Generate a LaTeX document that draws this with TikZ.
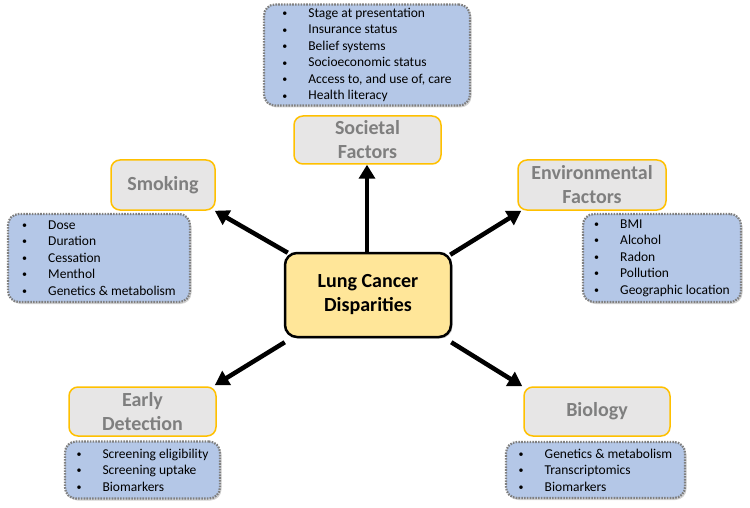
\documentclass[tikz,border=0pt]{standalone}
\usepackage{fontspec}
\setmainfont{Carlito}
\usetikzlibrary{arrows.meta,shadows,calc}
\definecolor{blu}{HTML}{B4C7E7}
\definecolor{lgray}{HTML}{E7E6E6}
\definecolor{gold}{HTML}{FFC000}
\definecolor{tgray}{HTML}{7F7F7F}
\definecolor{dgray}{HTML}{7F7F7F}
\definecolor{yel}{HTML}{FFE699}
\newcommand{\bli}[1]{\makebox[26pt][l]{\raisebox{0.8pt}{\fontsize{10}{10}\selectfont •}}#1}
\begin{document}
\begin{tikzpicture}[x=1pt,y=-1pt,
  lbl/.style={draw=gold, line width=1.5pt, fill=lgray, rounded corners=9pt, text=tgray,
    font=\fontsize{20}{24}\selectfont\bfseries, align=center, inner sep=0pt},
  blist/.style={draw=dgray, line width=2.2pt, dash pattern=on 1.6pt off 1.2pt, fill=blu,
    rounded corners=11pt, font=\fontsize{13.5}{16.5}\selectfont, align=left, inner sep=0pt,
    drop shadow={opacity=0.35, shadow xshift=1.5pt, shadow yshift=-2pt}},
  ctrbox/.style={draw=black, line width=2.5pt, fill=yel, rounded corners=12pt,
    font=\fontsize{20}{24}\selectfont\bfseries, align=center, inner sep=0pt,
    drop shadow={opacity=0.4, shadow xshift=1.5pt, shadow yshift=-1.5pt}},
  arr/.style={line width=4.5pt, -{Triangle[length=14pt,width=16pt]}}]
\useasboundingbox (0,0) rectangle (750,508);

\node[ctrbox, minimum width=166pt, minimum height=84pt] (ctr) at (368,295) {Lung Cancer\\Disparities};

\node[blist, minimum width=206pt, minimum height=101pt] (socb) at (367,55)
 {\bli{Stage at presentation}\\\bli{Insurance status}\\\bli{Belief systems}\\\bli{Socioeconomic status}\\\bli{Access to, and use of, care}\\\bli{Health literacy}};
\node[lbl, minimum width=147pt, minimum height=48pt] (soc) at (367.5,140) {Societal\\Factors};

\node[lbl, minimum width=104pt, minimum height=50pt] (smk) at (163,185) {Smoking};
\node[blist, minimum width=182pt, minimum height=88pt] (smkb) at (99,258)
 {\bli{Dose}\\\bli{Duration}\\\bli{Cessation}\\\bli{Menthol}\\\bli{Genetics \& metabolism}};

\node[lbl, minimum width=148pt, minimum height=50pt] (env) at (592,185) {Environmental\\Factors};
\node[blist, minimum width=158pt, minimum height=88pt] (envb) at (662,258)
 {\bli{BMI}\\\bli{Alcohol}\\\bli{Radon}\\\bli{Pollution}\\\bli{Geographic location}};

\node[lbl, minimum width=147pt, minimum height=49pt] (ear) at (142.5,411.5) {Early\\Detection};
\node[blist, minimum width=155pt, minimum height=57pt] (earb) at (142.5,470)
 {\bli{Screening eligibility}\\\bli{Screening uptake}\\\bli{Biomarkers}};

\node[lbl, minimum width=146pt, minimum height=49pt] (bio) at (597,411.5) {Biology};
\node[blist, minimum width=179pt, minimum height=56pt] (biob) at (595.5,470)
 {\bli{Genetics \& metabolism}\\\bli{Transcriptomics}\\\bli{Biomarkers}};

\draw[arr] ([xshift=-1pt]ctr.north) -- ([xshift=-1pt]ctr.north |- soc.south);
\draw[arr] ([shift={(4,1)}]ctr.north west) -- ([shift={(-1,0)}]smk.south east);
\draw[arr] ([shift={(-2,3)}]ctr.north east) -- ([shift={(4,0)}]env.south west);
\draw[arr] ([shift={(1,4)}]ctr.south west) -- ([shift={(-2,-1)}]ear.north east);
\draw[arr] ([shift={(-1,4)}]ctr.south east) -- ([shift={(-1,0)}]bio.north west);
\end{tikzpicture}
\end{document}
